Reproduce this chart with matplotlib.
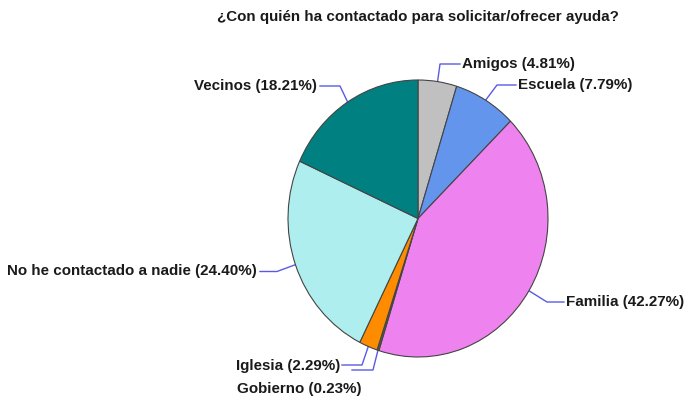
import numpy as np
import matplotlib
matplotlib.use("Agg")
import matplotlib.pyplot as plt

# Datos
categorias = ["Amigos", "Escuela", "Familia", "Gobierno", "Iglesia",
              "No he contactado a nadie", "Vecinos"]
porcentajes = [4.81, 7.79, 42.27, 0.23, 2.29, 24.40, 18.21]
colores = ["#c0c0c0", "#6495ed", "#ee82ee", "#556b2f", "#ff8c00",
           "#afeeee", "#008080"]
titulo = "¿Con quién ha contactado para solicitar/ofrecer ayuda?"

# posicion de etiquetas (pixeles): codo, fin de linea, texto x, texto y, alineacion
etiquetas = [
    ((440, 64), (460, 64), 462, 64, "left"),
    ((497, 85), (516, 85), 518, 85, "left"),
    ((547, 302), (564, 302), 566, 302, "left"),
    ((373, 370), (352, 370), 237, 389, "left"),
    ((362, 365), (342, 365), 340, 366, "right"),
    ((277, 271.5), (260, 271.5), 257, 271.5, "right"),
    ((340, 86), (320, 86), 317, 86, "right"),
]

plt.rcParams['font.family'] = ['Liberation Sans', 'DejaVu Sans']
W, H = 685, 400
fig = plt.figure(figsize=(W / 100, H / 100), dpi=100)

# eje de fondo en pixeles
bg = fig.add_axes([0, 0, 1, 1])
bg.set_xlim(0, W)
bg.set_ylim(H, 0)
bg.axis("off")

# eje del pie (ligeramente estirado en vertical como el original)
px0, px1, py0, py1 = 288, 548, 80, 357
ax = fig.add_axes([px0 / W, 1 - py1 / H, (px1 - px0) / W, (py1 - py0) / H])
wedges, _ = ax.pie(porcentajes, colors=colores, startangle=90, counterclock=False,
                   radius=1, wedgeprops=dict(edgecolor="#444444", linewidth=0.8))
ax.set_xlim(-1, 1)
ax.set_ylim(-1, 1)
ax.set_aspect("auto")
ax.axis("off")

to_bg = ax.transData + bg.transData.inverted()
for w, cat, pct, (codo, fin, tx, ty, ha) in zip(wedges, categorias, porcentajes, etiquetas):
    ang = np.deg2rad((w.theta1 + w.theta2) / 2)
    borde = to_bg.transform((np.cos(ang), np.sin(ang)))
    bg.plot([borde[0], codo[0], fin[0]], [borde[1], codo[1], fin[1]],
            color="#5a5ae6", lw=1.0, zorder=5)
    bg.text(tx, ty, f"{cat} ({pct:.2f}%)", ha=ha, va="center",
            fontsize=10.9, fontweight="bold", color="#1a1a1a")

bg.text(418, 17, titulo, ha="center", va="center", fontsize=10.9,
        fontweight="bold", color="#1a1a1a")

fig.savefig("out.png", dpi=100)
